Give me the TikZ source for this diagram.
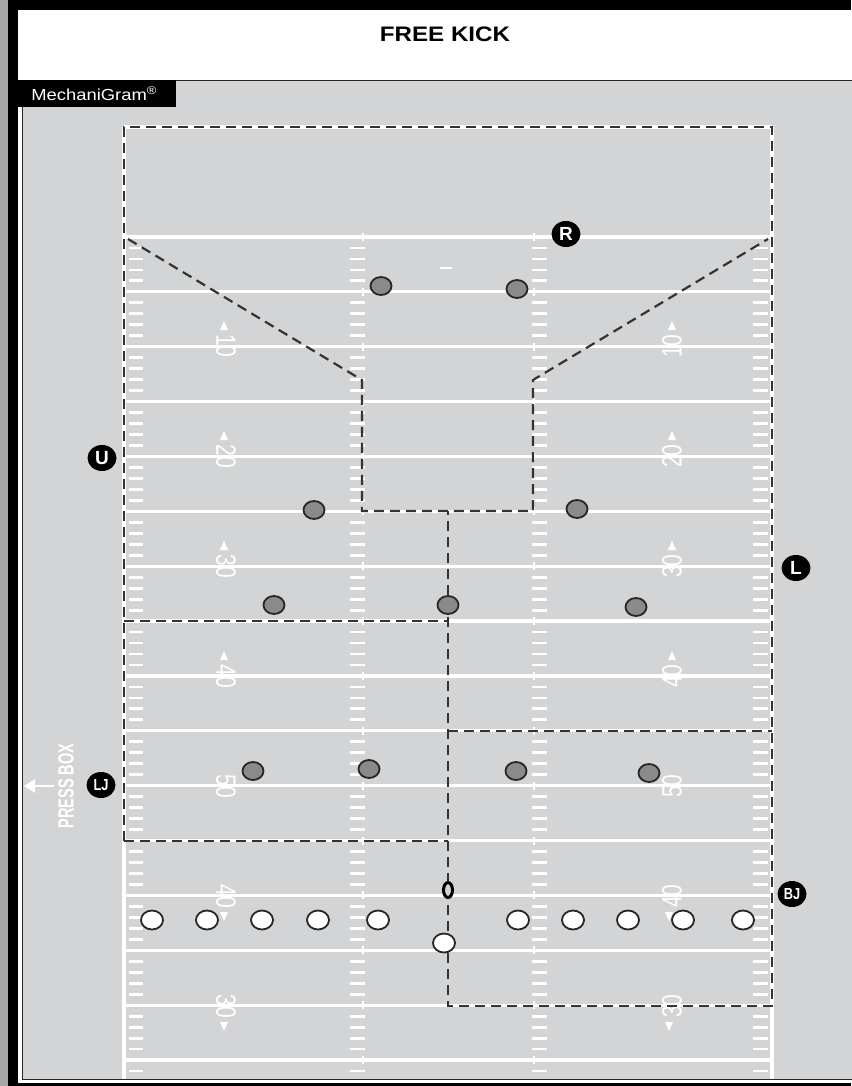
\documentclass[tikz,border=0pt]{standalone}
\usepackage{fontspec}
\setmainfont{Liberation Sans}
\usepackage{graphicx}
\usetikzlibrary{shapes.geometric, arrows.meta}

\definecolor{panelgray}{HTML}{D3D4D6}
\definecolor{zonegray}{HTML}{333333}
\definecolor{recvgray}{HTML}{8A8A8A}
\definecolor{ringgray}{HTML}{262626}

\begin{document}
\begin{tikzpicture}[x=1pt, y=-1pt,
    yardline/.style={white, line width=3.2pt},
    hashmark/.style={white, line width=2.8pt},
    zoneline/.style={draw=zonegray, line width=2.2pt, dash pattern=on 10pt off 6pt},
    fieldnum/.style={text=white, inner sep=0pt, font=\fontsize{28}{28}\selectfont},
    receiver/.style={ellipse, draw=ringgray, fill=recvgray, line width=1.8pt, minimum width=21pt, minimum height=18pt, inner sep=0pt},
    kickman/.style={ellipse, draw=ringgray, fill=white, line width=1.8pt, minimum width=22pt, minimum height=19pt, inner sep=0pt},
    official/.style={ellipse, fill=black, text=white, minimum width=29pt, minimum height=26pt, inner sep=0pt, font=\fontsize{19}{19}\selectfont\bfseries}]

\useasboundingbox (0,0) rectangle (851,1086);
\fill[black] (0,0) rectangle (851,1086);
\fill[gray!70] (0,0) rectangle (8,1086);
\fill[white] (18,10) rectangle (851,1083);
\filldraw[fill=panelgray, draw=ringgray, line width=0.8pt] (22,80) rectangle (853,1079);

\node (title) at (445,34) {\fontsize{21}{21}\selectfont\bfseries\scalebox{1.15}[1]{FREE KICK}};
\node (mgram) [fill=black, text=white, anchor=north west, minimum width=164pt, minimum height=27pt, inner sep=0pt, font=\fontsize{16}{16}\selectfont] at (12,80) {\scalebox{1.15}[1]{MechaniGram\textsuperscript{®}}};

\begin{scope}
\clip (23,81) rectangle (851,1078);
\draw[yardline] (124,127) -- (772,127);
\draw[yardline] (124,127) -- (124,1090);
\draw[yardline] (772,127) -- (772,1090);
\foreach \k in {0,...,15}{
  \pgfmathsetmacro\yl{237+54.87*\k}
  \draw[yardline] (124,\yl) -- (772,\yl);
  \draw[white, line width=1.5pt] (363,\yl-4) -- (363,\yl+4);
  \draw[white, line width=1.5pt] (534,\yl-4) -- (534,\yl+4);
  \foreach \j in {1,...,4}{
    \pgfmathsetmacro\yh{\yl+10.97*\j}
    \draw[hashmark] (129,\yh) -- (143,\yh);
    \draw[hashmark] (350,\yh) -- (365,\yh);
    \draw[hashmark] (532,\yh) -- (547,\yh);
    \draw[hashmark] (753,\yh) -- (768,\yh);
  }
}
\end{scope}
\draw[white, line width=2.8pt] (440,268) -- (452,268);

\foreach \yy/\lab in {346/10,456/20,566/30,676/40,786/50,896/40,1006/30}{
  \node (numl\yy) [fieldnum, rotate=-90] at (226,\yy) {\scalebox{0.75}[1]{\lab}};
  \node (numr\yy) [fieldnum, rotate=90] at (672,\yy) {\scalebox{0.75}[1]{\lab}};
}
\foreach \yy in {346,456,566,676}{
  \fill[white] (224,\yy-25) -- (220,\yy-16) -- (228,\yy-16) -- cycle;
  \fill[white] (672,\yy-25) -- (668,\yy-16) -- (676,\yy-16) -- cycle;
}
\foreach \yy in {896,1006}{
  \fill[white] (224,\yy+25) -- (220,\yy+16) -- (228,\yy+16) -- cycle;
  \fill[white] (669,\yy+25) -- (665,\yy+16) -- (673,\yy+16) -- cycle;
}

\draw[zoneline] (124,841) -- (124,127) -- (772,127) -- (772,1006) -- (448,1006) -- (448,511);
\draw[zoneline] (128,239) -- (362,380) -- (362,511) -- (533,511) -- (533,380) -- (768,239);
\draw[zoneline] (124,621) -- (448,621);
\draw[zoneline] (448,731) -- (772,731);
\draw[zoneline] (124,841) -- (448,841);

\foreach \xx/\yy [count=\i] in {381/286,517/289,314/510,577/509,274/605,448/605,636/607,253/771,369/769,516/771,649/773}
  \node (recv\i) [receiver] at (\xx,\yy) {};
\foreach \xx [count=\i] in {152,207,262,318,378,518,573,628,683,743}
  \node (kick\i) [kickman] at (\xx,920) {};
\node (kicker) [kickman] at (444,943) {};
\node (ball) [ellipse, draw=black, fill=panelgray, line width=3pt, minimum width=9pt, minimum height=15pt, inner sep=0pt] at (448,890) {};

\node (offR) [official] at (566,234) {R};
\node (offU) [official] at (102,458) {U};
\node (offL) [official] at (796,568) {L};
\node (offLJ) [official] at (101,785) {\fontsize{16}{16}\selectfont\scalebox{0.8}[1]{LJ}};
\node (offBJ) [official] at (792,894) {\fontsize{16}{16}\selectfont\scalebox{0.8}[1]{BJ}};

\node (pressbox) [rotate=90, text=white, inner sep=0pt, font=\fontsize{22}{22}\selectfont\bfseries] at (66,786) {\scalebox{0.66}[1]{PRESS BOX}};
\coordinate (pbfrom) at (54,786);
\coordinate (pbto) at (24,786);
\draw[white, line width=2.8pt, -{Triangle[length=11pt, width=13pt]}] (pbfrom) -- (pbto);
\end{tikzpicture}
\end{document}
